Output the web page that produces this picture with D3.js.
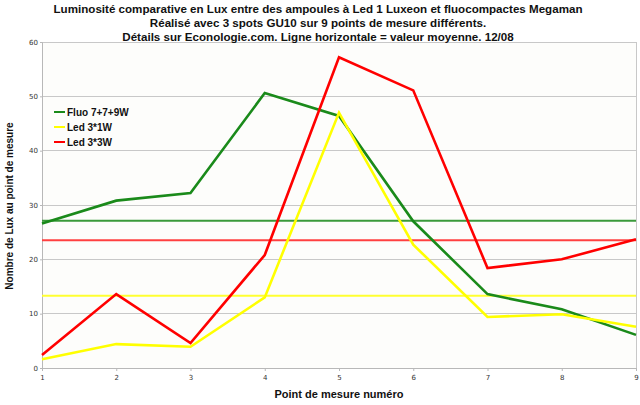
<!DOCTYPE html>
<html><head><meta charset="utf-8">
<script src="https://cdn.jsdelivr.net/npm/d3@7"></script>
<style>
html,body{margin:0;padding:0;background:#fff;}
svg{display:block;font-family:"Liberation Sans",Arial,sans-serif;}
</style></head>
<body><svg id="c" width="640" height="405"></svg>
<script>
const points = [1,2,3,4,5,6,7,8,9];
const fluo = [26.6,30.8,32.2,50.6,46.4,27.0,13.6,10.8,6.1];
const led1w = [1.6,4.4,3.9,13.0,47.0,22.7,9.4,9.9,7.6];
const led3w = [2.4,13.6,4.6,20.8,57.2,51.1,18.4,20.0,23.7];
const seriesNames = ["Fluo 7+7+9W","Led 3*1W","Led 3*3W"];
const seriesColors = ["#1a8a1a","#ffff00","#ff0000"];
const avgColors = ["#3a9a3a","#ffff30","#ff4040"];
const yTicks = [0,10,20,30,40,50,60];
const titleLines = ["Luminosité comparative en Lux entre des ampoules à Led 1 Luxeon et fluocompactes Megaman",
  "Réalisé avec 3 spots GU10 sur 9 points de mesure différents.",
  "Détails sur Econologie.com. Ligne horizontale = valeur moyenne. 12/08"];
const xTitle = "Point de mesure numéro";
const yTitle = "Nombre de Lux au point de mesure";

const svg = d3.select("#c");
const L=42,R=636,T=42,B=368;
const x = d3.scaleLinear().domain([1,9]).range([L,R]);
const y = d3.scaleLinear().domain([0,60]).range([B,T]);

svg.append("rect").attr("x",L).attr("y",T).attr("width",R-L).attr("height",B-T).attr("fill","#fdfdfb");

// grid
svg.append("g").selectAll("line").data(yTicks.filter(d=>d>0)).join("line")
  .attr("x1",L).attr("x2",R).attr("y1",d=>y(d)).attr("y2",d=>y(d))
  .attr("stroke","#c8c8c8").attr("stroke-width",1).attr("shape-rendering","crispEdges");
// right border
svg.append("line").attr("x1",R).attr("x2",R).attr("y1",T).attr("y2",B).attr("stroke","#c8c8c8").attr("shape-rendering","crispEdges");

// axes
const yAxis = svg.append("g").attr("transform",`translate(${L},0)`)
  .call(d3.axisLeft(y).tickValues(yTicks).tickSize(2).tickPadding(2));
const xAxis = svg.append("g").attr("transform",`translate(0,${B})`)
  .call(d3.axisBottom(x).tickValues(points).tickSize(3).tickPadding(4));
[yAxis,xAxis].forEach(g=>{
  g.select(".domain").attr("stroke","#b8b8b8");
  g.selectAll(".tick line").attr("stroke","#b8b8b8");
  g.selectAll("text").attr("font-size",7).attr("fill","#333").attr("font-family","'DejaVu Sans',sans-serif");
});

const data = [fluo,led1w,led3w];
// average lines
data.forEach((s,i)=>{
  const m = d3.mean(s);
  svg.append("line").attr("x1",L).attr("x2",R).attr("y1",y(m)).attr("y2",y(m))
    .attr("stroke",avgColors[i]).attr("stroke-width",2);
});
// series lines
const line = d3.line().x((d,i)=>x(points[i])).y(d=>y(d));
data.forEach((s,i)=>{
  svg.append("path").attr("d",line(s)).attr("fill","none")
    .attr("stroke",seriesColors[i]).attr("stroke-width",2.6).attr("stroke-linejoin","miter");
});

// title
svg.append("g").selectAll("text").data(titleLines).join("text")
  .attr("x",318).attr("y",(d,i)=>12.5+i*14).attr("text-anchor","middle")
  .attr("font-size",11.6).attr("font-weight","bold").attr("fill","#111").text(d=>d);

// axis titles
svg.append("text").attr("x",339).attr("y",398).attr("text-anchor","middle")
  .attr("font-size",11).attr("font-weight","bold").attr("fill","#111").text(xTitle);
svg.append("text").attr("transform","translate(13,206) rotate(-90)").attr("text-anchor","middle")
  .attr("font-size",10).attr("font-weight","bold").attr("fill","#111").text(yTitle);

// legend
const lg = svg.append("g").selectAll("g").data(seriesNames).join("g")
  .attr("transform",(d,i)=>`translate(54,${112+i*15})`);
lg.append("line").attr("x1",0).attr("x2",11).attr("stroke",(d,i)=>seriesColors[i]).attr("stroke-width",2);
lg.append("text").attr("x",13).attr("y",4).attr("font-size",10).attr("font-weight","bold").attr("fill","#111").text(d=>d);
</script></body></html>
